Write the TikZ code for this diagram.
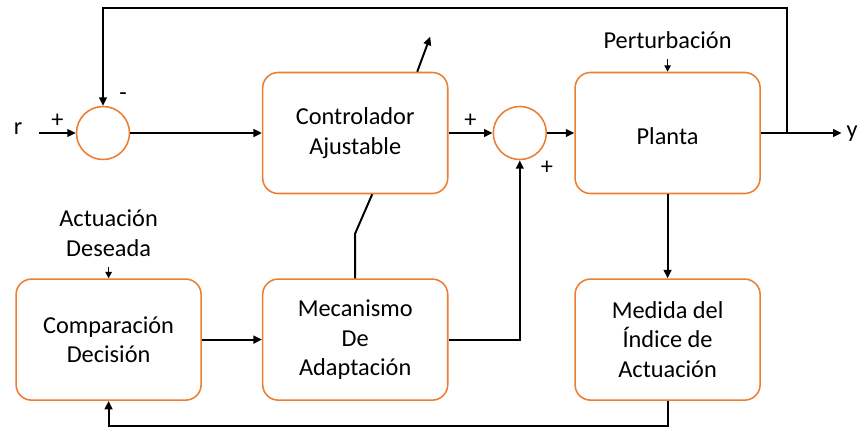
\documentclass[tikz,border=0pt]{standalone}
\usepackage{fontspec}
\setmainfont{Carlito}
\usetikzlibrary{positioning,arrows.meta,calc}
\definecolor{boxorange}{HTML}{ED7D31}

\begin{document}
\begin{tikzpicture}[
    x=0.025cm, y=-0.025cm,
    font=\fontsize{17.3}{21}\selectfont,
    >={Triangle[length=6pt,width=5.5pt]},
    every node/.style={align=center},
    block/.style={draw=boxorange, rounded corners=11pt, line width=1.1pt, minimum width=4.625cm, minimum height=3.025cm, inner sep=2pt, execute at begin node={\rule{0pt}{17pt}}},
    sumnode/.style={circle, draw=boxorange, line width=1.1pt, minimum size=1.325cm, inner sep=0pt},
    sign/.style={inner sep=1pt},
    arrow/.style={->, line width=1.4pt},
    wire/.style={line width=1.4pt},
    smallarrow/.style={-{Triangle[length=4.5pt,width=4.5pt]}, line width=1pt}
]
\useasboundingbox (0,0) rectangle (860,428);

% Top row: main loop
\node[sumnode] (sum1) at (103,133) {};
\node[block, right=3.29cm of sum1] (ctrl) {Controlador\\Ajustable};
\node[sumnode, right=1.1cm of ctrl] (sum2) {};
\node[block, right=0.68cm of sum2] (plant) {Planta};
\node (dist) [above=0.45cm of plant] {Perturbación};
\node (r) at (18,128.5) {r};
\node (yout) at (852,134) {y};

% Bottom row: adaptation
\node[block, below=2.1cm of ctrl] (mech) {Mecanismo\\De\\Adaptación};
\node[block, below=2.1cm of plant] (meas) {Medida del\\Índice de\\Actuación};
\node[block, left=1.5cm of mech] (comp) {Comparación\\Decisión};
\node (want) [above=0.42cm of comp] {Actuación\\Deseada};

\coordinate (tap) at ($(plant.east)+(26,0)$);
\coordinate (adj) at ($(ctrl.north)+(75,-35)$);

\draw[arrow] ($(r.east |- sum1)+(12,0)$) -- (sum1) node[midway, above] {+};
\draw[arrow] (sum1) -- (ctrl);
\draw[arrow] (ctrl) -- (sum2) node[midway, above] {+};
\draw[arrow] (sum2) -- (plant);
\draw[arrow] (plant.east) -- (yout.west |- plant.east);
\draw[arrow] (tap) -- (tap |- 0,8) -| (sum1.north);
\draw[smallarrow, shorten <=4pt] (dist.south) -- (plant.north);
\draw[arrow] ($(ctrl.north)+(62,0)$) -- (adj);

\node[sign] at ($(sum1)+(20,-36)$) {-};
\node[sign] at ($(sum2)+(27,35)$) {+};

\draw[smallarrow, shorten <=4pt] (want.south) -- (comp.north);
\draw[arrow] (comp) -- (mech);
\draw[arrow] (mech.east) -| (sum2.south);
\draw[wire] (mech.north) -- ++(0,-45) -- ($(ctrl.south)+(17,0)$);
\draw[arrow] (plant) -- (meas);
\draw[arrow] (meas.south) -- ++(0,25) -| (comp.south);
\end{tikzpicture}
\end{document}
